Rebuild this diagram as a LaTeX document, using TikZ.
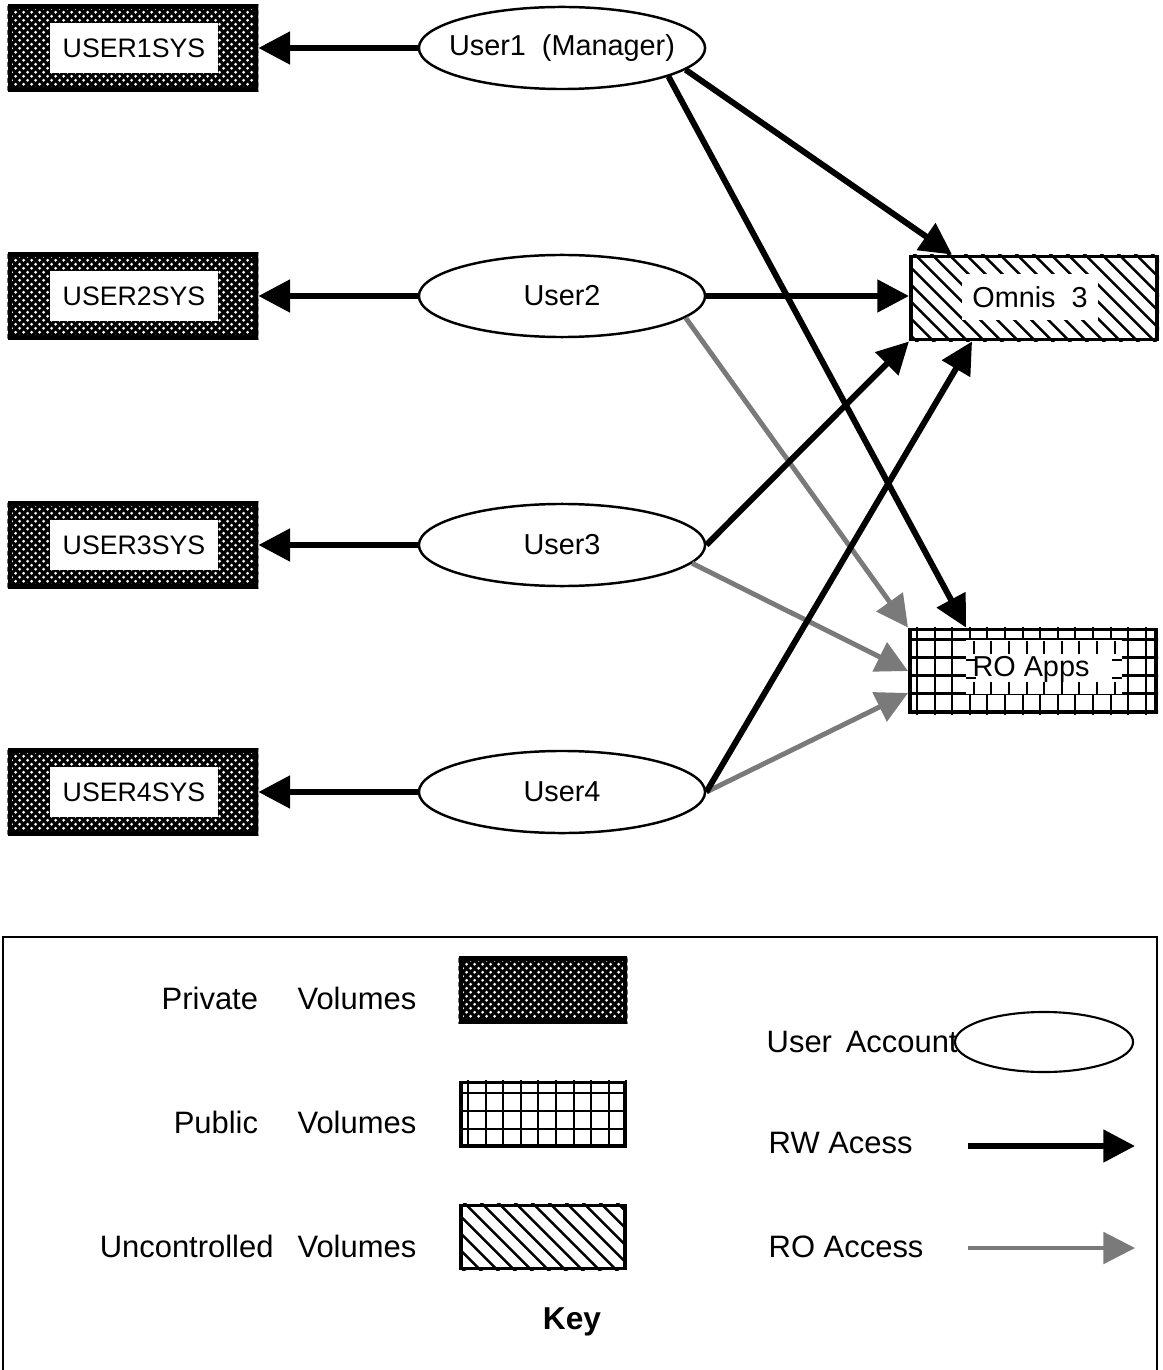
\documentclass[tikz,border=0pt]{standalone}
\usepackage{fontspec}
\setmainfont{Liberation Sans}
\usetikzlibrary{arrows.meta,shapes.geometric}

% fills for the volume boxes, clipped to the box named #1
\newcommand{\crossfill}[1]{%
  \begin{scope}
    \clip (#1.north west) rectangle (#1.south east);
    \foreach \k in {-96,-88,...,344} {
      \draw[line width=0.9pt] ([xshift=\k*0.01cm, yshift=0.04cm]#1.north west) -- ++(100,100);
      \draw[line width=0.9pt] ([xshift=\k*0.01cm, yshift=0.04cm]#1.north west) -- ++(-100,100);
    }
  \end{scope}}
\newcommand{\gridfill}[1]{%
  \begin{scope}
    \clip (#1.north west) rectangle (#1.south east);
    \foreach \i in {0,...,14}
      \draw[line width=0.6pt] ([xshift=(9+17.6*\i)*0.01cm, yshift=0.02cm]#1.north west) -- ++(0,100);
    \foreach \j in {0,...,4}
      \draw[line width=0.6pt] ([xshift=-0.02cm, yshift=-(12+18*\j)*0.01cm]#1.north west) -- ++(260,0);
  \end{scope}}
\newcommand{\hatchfill}[1]{%
  \begin{scope}
    \clip (#1.north west) rectangle (#1.south east);
    \foreach \k in {-100,-83,...,260}
      \draw[line width=0.7pt] ([xshift=\k*0.01cm, yshift=0.04cm]#1.north west) -- ++(100,100);
  \end{scope}}

\tikzset{
  vol/.style={draw, line width=1.1pt, inner sep=0pt},
  big/.style={minimum width=2.46cm, minimum height=0.83cm},
  swatch/.style={minimum width=1.64cm, minimum height=0.63cm},
  hole/.style={fill=white, inner sep=0pt},
  user/.style={ellipse, draw, line width=0.7pt, inner sep=0pt,
    minimum width=2.86cm, minimum height=0.82cm},
  keytext/.style={font=\fontsize{8.8}{10}\selectfont, inner sep=0pt}
}

\begin{document}
\begin{tikzpicture}[x=0.01cm, y=-0.01cm, font=\fontsize{8.2}{10}\selectfont,
    rw/.style={-{Triangle[length=9pt,width=9pt]}, line width=1.7pt},
    ro/.style={-{Triangle[length=9pt,width=9pt]}, line width=1.4pt, draw=black!52}]
  \useasboundingbox (0,0) rectangle (1162,1370);

  % private volumes and their owners
  \foreach \n/\y/\t in {1/48/{User1~ (Manager)},2/296/User2,3/545/User3,4/792/User4} {
    \node[vol, line width=1.3pt, big] (sys\n) at (133,\y) {};
    \crossfill{sys\n}
    \node[hole, minimum width=1.68cm, minimum height=0.49cm,
      font=\fontsize{7.6}{9}\selectfont] (lbl\n) at (134,\y) {USER\n SYS};
    \node[user, label=center:\t] (u\n) at (562,\y) {};
    \draw[rw] (u\n.west) -- (sys\n.east);
  }

  % shared volumes
  \node[vol, big] (omnis) at (1034,298) {};
  \hatchfill{omnis}
  \node[hole, minimum width=1.36cm, minimum height=0.46cm] (omnislbl) at (1030,297) {Omnis~ 3};
  \node[vol, big] (apps) at (1033,671) {};
  \gridfill{apps}
  \node[hole, minimum width=1.56cm, minimum height=0.53cm] (appshole) at (1044,667) {};
  \foreach \i in {3,...,11} {
    \draw[line width=0.6pt] (921+17.6*\i,641) -- ++(0,13);
    \draw[line width=0.6pt] (921+17.6*\i,694) -- ++(0,-12);
  }
  \foreach \y in {660,678} {
    \draw[line width=0.6pt] (966,\y) -- ++(10,0);
    \draw[line width=0.6pt] (1122,\y) -- ++(-10,0);
  }
  \node (appslbl) at (1031,669) {RO Apps};

  % read-only access
  \draw[ro] (u2.-10) -- (apps.north west);
  \draw[ro] (u3.-8) -- (apps.west);
  \draw[ro] (u4.east) -- ([yshift=-2.2mm]apps.west);
  % read-write access
  \draw[rw] (u1.-10) -- ([xshift=4.3mm]omnis.north west);
  \draw[rw] (u1.-15) -- ([xshift=5.8mm]apps.north west);
  \draw[rw] (u2.east) -- (omnis.west |- u2.east);
  \draw[rw] (u3.east) -- (omnis.south west);
  \draw[rw] (u4.east) -- ([xshift=6.3mm]omnis.south west);

  % key
  \draw[line width=0.6pt] (3,937) rectangle (1157,1400);
  \node[keytext, anchor=east] (kpriv) at (417,998) {Private\quad\ Volumes};
  \node[vol, line width=1.3pt, swatch] (spriv) at (543,990) {};
  \crossfill{spriv}
  \node[keytext, anchor=east] (kpub) at (417,1122) {Public\quad\ Volumes};
  \node[vol, swatch] (spub) at (543,1114) {};
  \gridfill{spub}
  \node[keytext, anchor=east] (kunc) at (417,1246) {Uncontrolled\enspace\ Volumes};
  \node[vol, swatch] (sunc) at (543,1237) {};
  \hatchfill{sunc}
  \node[keytext, font=\fontsize{9}{10}\selectfont\bfseries] (key) at (572,1322) {Key};

  \node[keytext, anchor=west] (kuser) at (766,1042) {User\,\ Account};
  \node[user, line width=0.6pt, minimum width=1.78cm, minimum height=0.6cm] (suser) at (1044,1042) {};
  \node[keytext, anchor=west] (krw) at (768,1143) {RW Acess};
  \coordinate (rwa) at (968,1146);
  \coordinate (rwb) at (1135,1146);
  \draw[rw] (rwa) -- (rwb);
  \node[keytext, anchor=west] (kro) at (768,1247) {RO Access};
  \coordinate (roa) at (968,1248);
  \coordinate (rob) at (1135,1248);
  \draw[ro, line width=0.9pt] (roa) -- (rob);
\end{tikzpicture}
\end{document}
